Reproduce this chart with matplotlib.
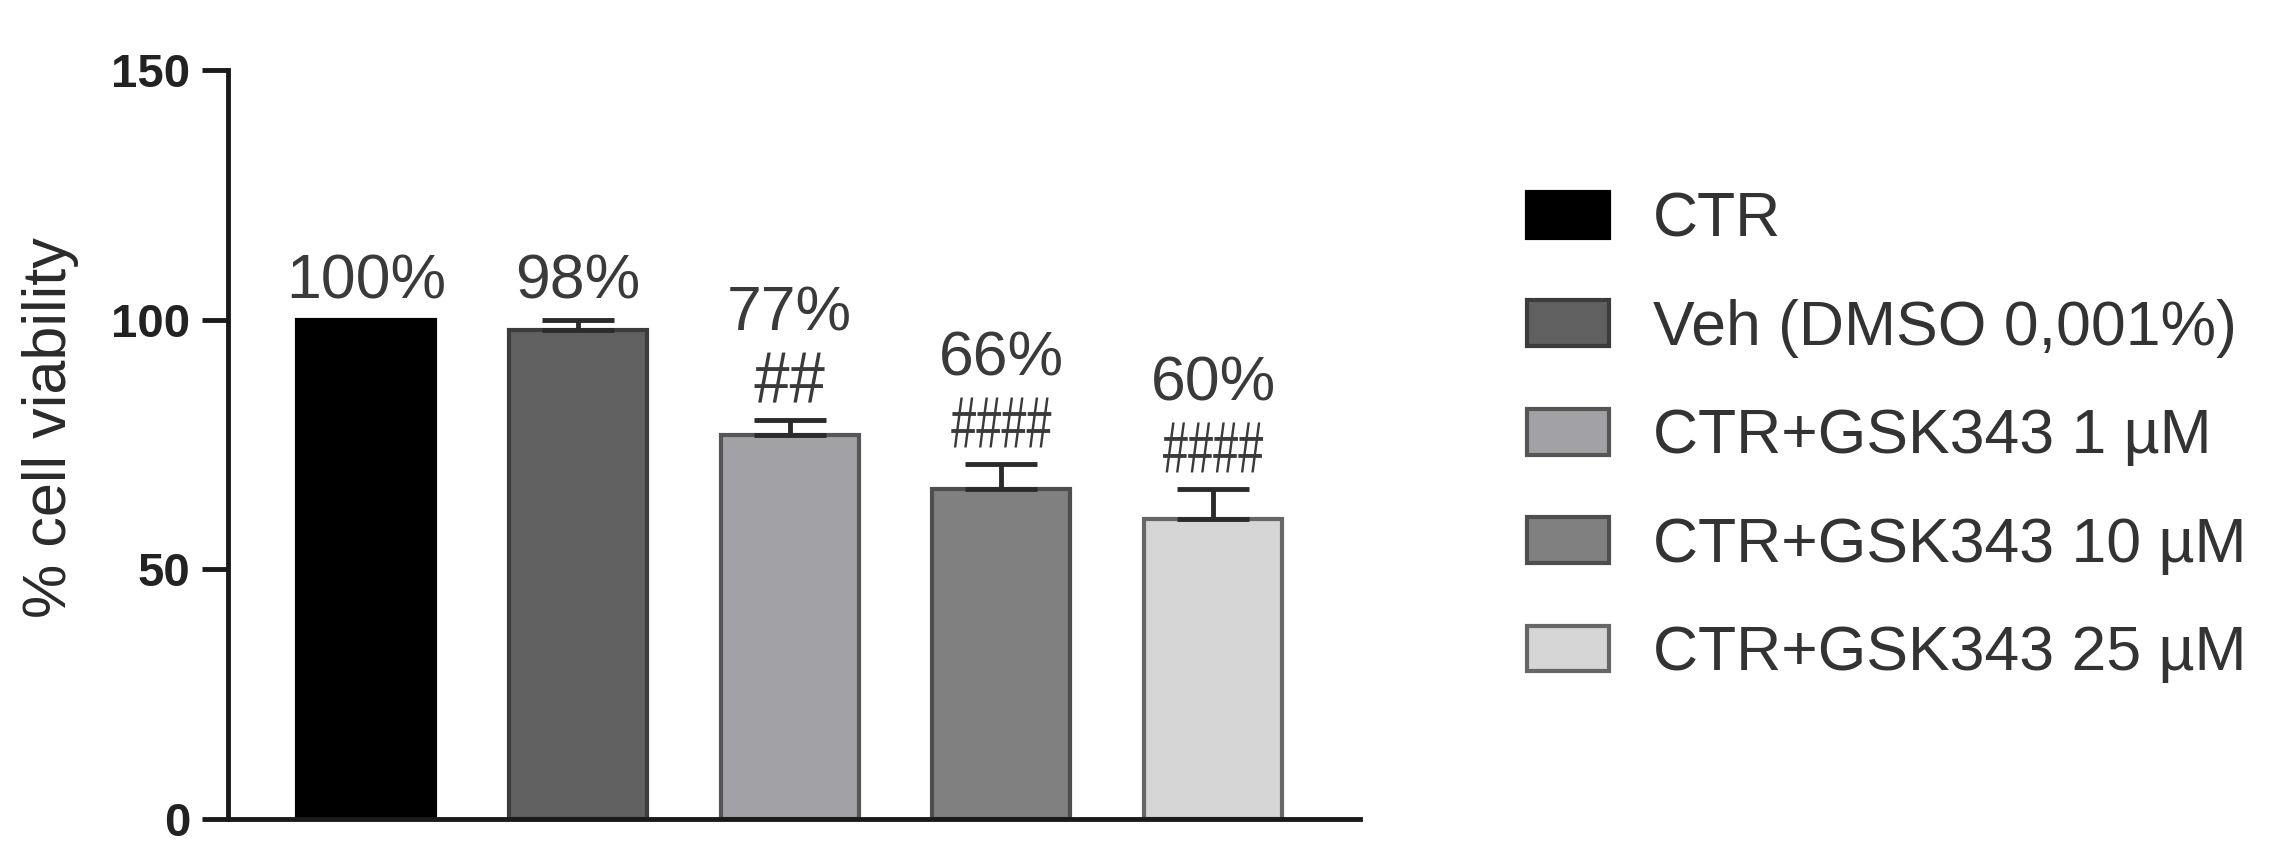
import matplotlib
matplotlib.use("Agg")
import matplotlib.pyplot as plt
import numpy as np
from matplotlib.font_manager import FontProperties
from matplotlib.patches import PathPatch
from matplotlib.textpath import TextPath
from matplotlib.transforms import Affine2D, ScaledTranslation

plt.rcParams["font.family"] = ["Liberation Sans", "DejaVu Sans"]

# data
groups = ["CTR", "Veh (DMSO 0,001%)", "CTR+GSK343 1 µM",
          "CTR+GSK343 10 µM", "CTR+GSK343 25 µM"]
viability = [100, 98, 77, 66, 60]
sem = [0, 2, 3, 5, 6]
pct_labels = ["100%", "98%", "77%", "66%", "60%"]
sig_marks = ["", "", "##", "####", "####"]

FILLS = ["#000000", "#606060", "#a2a2a6", "#808080", "#d5d5d5"]
EDGES = ["#000000", "#3c3c3c", "#555555", "#4e4e4e", "#666666"]
INK = "#1a1a1a"
LABEL = "#3a3a3a"
HASH_W = {2: 70, 4: 100}   # the source squeezes the marks, px wide
HASH_H = 50                # ink height, px

W, H = 2278, 864
fig = plt.figure(figsize=(W / 100, H / 100), dpi=100)
fig.patch.set_facecolor("white")
ax = fig.add_axes([228 / W, 1 - 819 / H, (1360 - 228) / W, (819 - 70) / H])
ax.set_xlim(-0.652, 4.694)
ax.set_ylim(0, 150)

x = np.arange(len(groups))
bars = ax.bar(x, viability, width=0.652, color=FILLS, edgecolor=EDGES,
              linewidth=3, zorder=2)

# upper-only error bars, skip the zero-variance control
has_err = [i for i, e in enumerate(sem) if e > 0]
ax.errorbar(x[has_err], [viability[i] for i in has_err],
            yerr=[[0] * len(has_err), [sem[i] for i in has_err]],
            fmt="none", ecolor="#2b2b2b", elinewidth=3.5, capsize=26,
            capthick=3.5, zorder=3)


def hash_mark(ax, xc, ybase, s):
    """Condensed significance marks drawn as a scaled text path."""
    tp = TextPath((0, 0), s, size=1, prop=FontProperties(family="Liberation Sans"))
    ext = tp.get_extents()
    sx = HASH_W.get(len(s), 25 * len(s)) / ext.width
    sy = HASH_H / ext.height
    tr = (Affine2D().translate(-(ext.x0 + ext.x1) / 2, -ext.y0).scale(sx, sy)
          + ScaledTranslation(xc, ybase, ax.transData))
    ax.add_artist(PathPatch(tp, transform=tr, facecolor=LABEL,
                            edgecolor="none", zorder=4))


for xi, v, e, pl, sm in zip(x, viability, sem, pct_labels, sig_marks):
    top = v + e
    if sm:
        hash_mark(ax, xi, top + 3.4, sm)
        ax.text(xi, top + 17.8, pl, ha="center", va="baseline",
                fontsize=45, color=LABEL)
    else:
        ax.text(xi, top + 4.2, pl, ha="center", va="baseline",
                fontsize=45, color=LABEL)

ax.set_yticks([0, 50, 100, 150])
for side in ("top", "right"):
    ax.spines[side].set_visible(False)
for side in ("left", "bottom"):
    ax.spines[side].set_linewidth(3.5)
    ax.spines[side].set_color(INK)
ax.tick_params(axis="y", length=19, width=3.5, color=INK, pad=8,
               labelsize=34, labelcolor="#222222")
ax.tick_params(axis="x", bottom=False, labelbottom=False)
for lbl in ax.get_yticklabels():
    lbl.set_fontweight("bold")

fig.text(51 / W, 1 - 428 / H, "% cell viability", rotation=90,
         ha="center", va="center", fontsize=44, color="#2a2a2a")

fig.legend(bars.patches, groups, loc="center left",
           bbox_to_anchor=(1527 / W, 1 - 437 / H), frameon=False,
           fontsize=45, labelcolor="#333333", handlelength=1.31,
           handleheight=0.75, handletextpad=0.7, labelspacing=0.79,
           borderpad=0, borderaxespad=0)

fig.savefig("out.png", dpi=100, facecolor="white")
